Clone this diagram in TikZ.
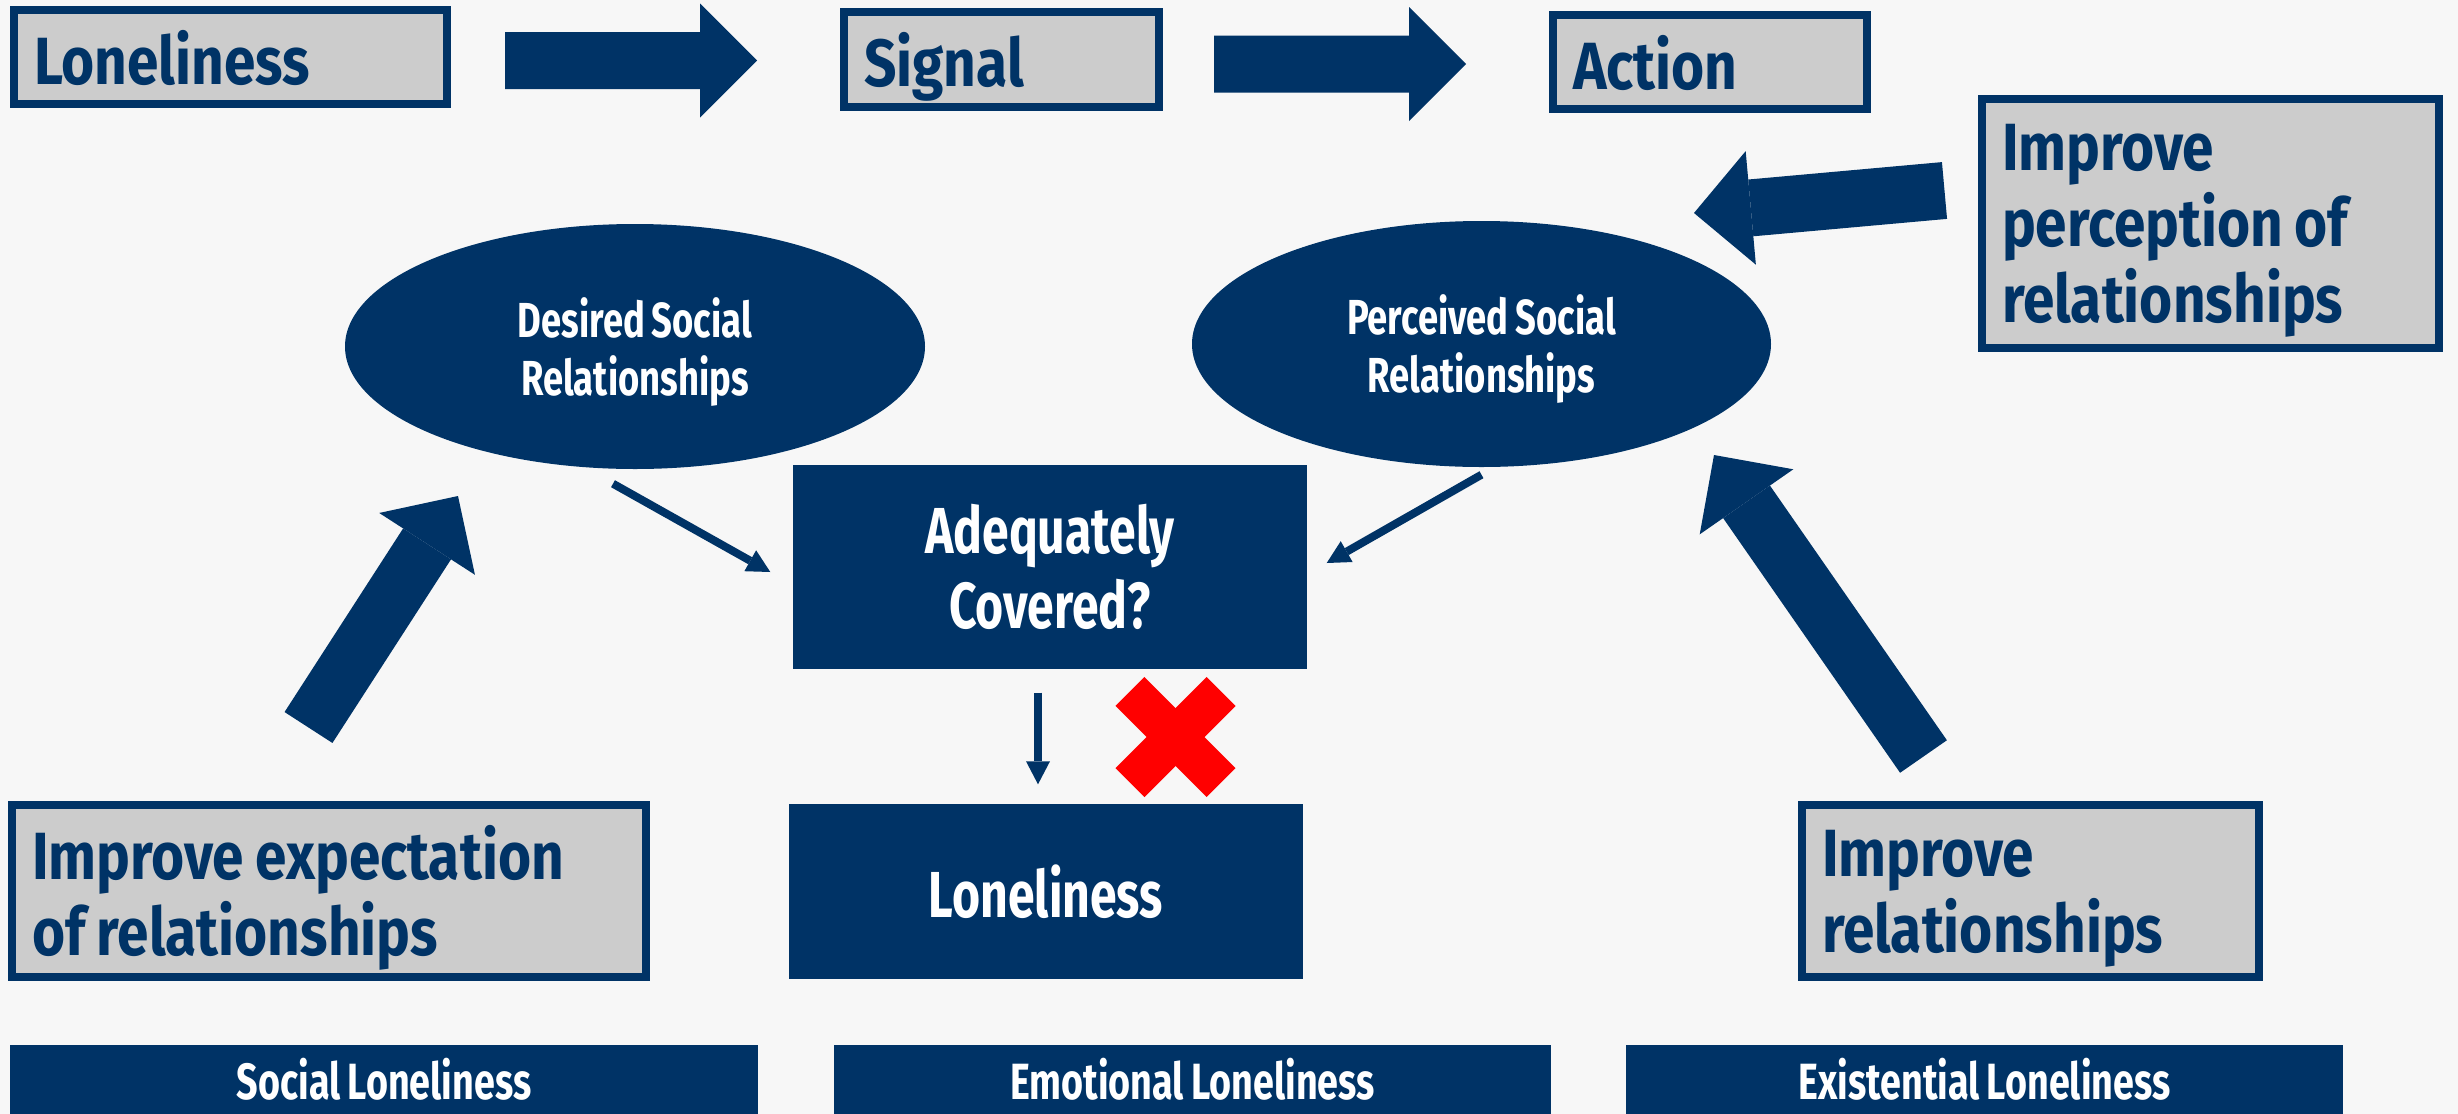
\documentclass[tikz,border=0pt]{standalone}
\usepackage{fontspec}
\setmainfont{Fira Sans}[FakeStretch=0.85, WordSpace=0.85]
\newfontfamily\slimfont{Fira Sans}[FakeStretch=0.74, WordSpace=0.8]
\usepackage{tikz}
\usetikzlibrary{arrows.meta, shapes.geometric}

\definecolor{navy}{HTML}{003366}
\definecolor{boxgray}{HTML}{CCCCCC}
\definecolor{bggray}{HTML}{F7F7F7}
\definecolor{xred}{HTML}{FF0000}

\tikzset{
  graybox/.style={draw=navy, line width=0.08cm, fill=boxgray, text=navy, align=flush left,
    inner xsep=0.2cm, inner ysep=0pt, font=\bfseries\fontsize{19}{21.6}\selectfont},
  navybox/.style={fill=navy, text=white, align=flush center, inner sep=0pt,
    font=\slimfont\bfseries\fontsize{18.5}{21.3}\selectfont},
  navyoval/.style={ellipse, fill=navy, text=white, align=flush center, inner sep=0pt, text depth=0pt,
    font=\slimfont\bfseries\fontsize{14}{16.5}\selectfont},
  navybar/.style={fill=navy, text=white, inner sep=0pt, minimum height=0.69cm,
    font=\slimfont\bfseries\fontsize{14.5}{16}\selectfont},
  fatarrow/.style={draw=navy, line width=0.57cm, -{Triangle[length=0.57cm, width=1.14cm, line width=0pt]}},
  thinarrow/.style={draw=navy, line width=0.08cm, -{Triangle[length=0.23cm, width=0.24cm, line width=0pt]}},
  xmark/.style={draw=xred, line width=0.41cm}
}

\begin{document}
\begin{tikzpicture}
        \fill[bggray] (0,0) rectangle (24.58,-11.14);
        \useasboundingbox (0,0) rectangle (24.58,-11.14);

        % top row
        \node[graybox, text depth=0pt, minimum width=4.33cm, minimum height=0.94cm, text width=3.93cm] (lon1) at (2.305,-0.57) {Loneliness};
        \node[graybox, text depth=0pt, minimum width=3.15cm, minimum height=0.95cm, text width=2.75cm] (signal) at (10.015,-0.595) {Signal};
        \node[graybox, text depth=0pt, minimum width=3.14cm, minimum height=0.94cm, text width=2.74cm] (action) at (17.10,-0.62) {Action};

        \draw[fatarrow] ([shift={(0.54,-0.035)}]lon1.east) -- ([shift={(-0.83,-0.01)}]signal.west);
        \draw[fatarrow] ([shift={(0.51,-0.045)}]signal.east) -- ([shift={(-0.83,-0.02)}]action.west);

        % model
        \node[navyoval, minimum width=5.80cm, minimum height=2.45cm] (desired) at (6.35,-3.465) {Desired Social\\Relationships};
        \node[navyoval, minimum width=5.79cm, minimum height=2.46cm] (perceived) at (14.815,-3.44) {Perceived Social\\Relationships};
        \node[navybox, minimum width=5.14cm, minimum height=2.04cm] (adequate) at (10.50,-5.67) {Adequately\\Covered?};
        \node[navybox, minimum width=5.14cm, minimum height=1.75cm] (lonely) at (10.46,-8.915) {Loneliness};

        \draw[thinarrow] ([shift={(-0.22,-0.14)}]desired.south) -- ([shift={(-0.22,-0.05)}]adequate.west);
        \draw[thinarrow] ([shift={(0,-0.07)}]perceived.south) -- ([shift={(0.19,0.04)}]adequate.east);
        \draw[thinarrow] ([shift={(-0.12,-0.23)}]adequate.south) -- ([shift={(-0.08,0.19)}]lonely.north);

        \coordinate (nox) at (11.755,-7.37);
        \draw[xmark] ([shift={(-0.456,0.456)}]nox) -- ([shift={(0.456,-0.456)}]nox);
        \draw[xmark] ([shift={(-0.456,-0.456)}]nox) -- ([shift={(0.456,0.456)}]nox);

        % ways out
        \node[graybox, minimum width=4.57cm, minimum height=2.49cm, text width=4.17cm] (perceive) at (22.105,-2.235) {Improve\\perception of\\\smash{relationships}};
        \node[graybox, minimum width=6.34cm, minimum height=1.72cm, text width=5.94cm] (expect) at (3.29,-8.91) {Improve expectation\\of \smash{relationships}};
        \node[graybox, minimum width=4.57cm, minimum height=1.72cm, text width=4.17cm] (improverel) at (20.305,-8.91) {Improve\\\smash{relationships}};

        \draw[fatarrow] ([shift={(-0.335,0.33)}]perceive.west) -- ([shift={(2.125,1.31)}]perceived.center);
        \draw[fatarrow] ([shift={(-0.205,0.735)}]expect.north) -- ([shift={(-1.77,-1.495)}]desired.center);
        \draw[fatarrow] ([shift={(-1.07,0.445)}]improverel.north) -- ([shift={(2.325,-1.11)}]perceived.center);

        % bottom bars
        \node[navybar, minimum width=7.48cm] (socialbar) at (3.84,-10.795) {Social Loneliness};
        \node[navybar, minimum width=7.17cm] (emotionalbar) at (11.925,-10.795) {Emotional Loneliness};
        \node[navybar, minimum width=7.17cm] (existentialbar) at (19.845,-10.795) {Existential Loneliness};
\end{tikzpicture}
\end{document}
